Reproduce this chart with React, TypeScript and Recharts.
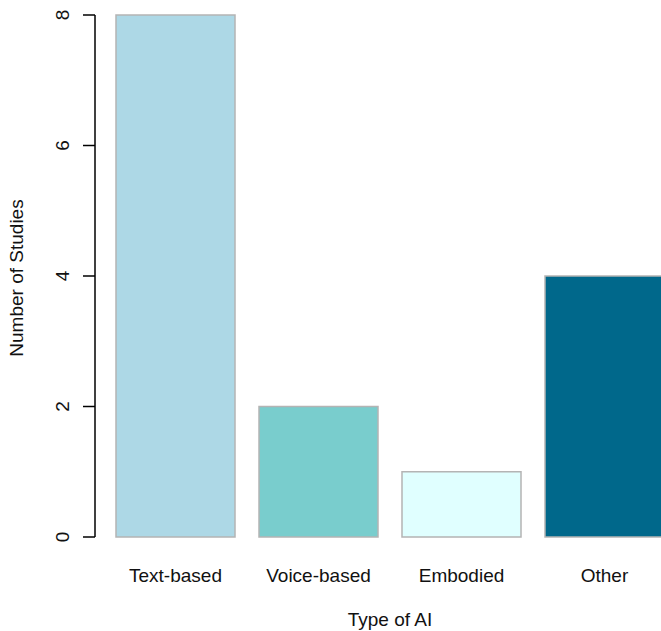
import { BarChart, Bar, XAxis, YAxis, Cell } from "recharts";

const categories = ["Text-based", "Voice-based", "Embodied", "Other"];
const studies = [8, 2, 1, 4];
const colors = ["#ADD8E6", "#79CDCD", "#E0FFFF", "#00688B"];
const yTicks = [0, 2, 4, 6, 8];

const data = categories.map((name, i) => ({ name, value: studies[i] }));

const FONT = "Arial, 'Liberation Sans', sans-serif";
const FS = 19;

function YTick(props: any) {
  const { x, y, payload } = props;
  const tx = x - 12;
  return (
    <text
      x={tx}
      y={y}
      transform={`rotate(-90, ${tx}, ${y})`}
      textAnchor="middle"
      fontSize={FS}
      fontFamily={FONT}
      fill="#111"
    >
      {payload.value}
    </text>
  );
}

export default function App() {
  return (
    <div style={{ position: "fixed", left: 0, top: 0, width: 661, height: 631, overflow: "hidden", background: "#fff" }}>
      <BarChart
        width={700}
        height={631}
        data={data}
        margin={{ top: 15, right: 24, bottom: 0, left: 0 }}
        barCategoryGap={12}
      >
        <XAxis
          dataKey="name"
          axisLine={false}
          tickLine={false}
          padding={{ left: 9, right: 0 }}
          tick={{ fontSize: FS, fontFamily: FONT, fill: "#111", dy: 24 }}
          height={94}
          interval={0}
        />
        <YAxis
          domain={[0, 8]}
          ticks={yTicks}
          width={95}
          axisLine={{ stroke: "#000", strokeWidth: 1.5 }}
          tickLine={{ stroke: "#000", strokeWidth: 1.5 }}
          tickSize={12}
          tick={<YTick />}
        />
        <Bar dataKey="value" stroke="#B4B4B4" strokeWidth={1.5} isAnimationActive={false}>
          {data.map((d, i) => (
            <Cell key={d.name} fill={colors[i]} />
          ))}
        </Bar>
      </BarChart>
      <div
        style={{
          position: "absolute",
          left: 390,
          top: 619,
          transform: "translate(-50%, -50%)",
          fontSize: FS,
          lineHeight: 1,
          fontFamily: FONT,
          color: "#111",
          whiteSpace: "nowrap",
        }}
      >
        Type of AI
      </div>
      <div
        style={{
          position: "absolute",
          left: 17,
          top: 278,
          transform: "translate(-50%, -50%) rotate(-90deg)",
          fontSize: FS,
          fontFamily: FONT,
          color: "#111",
          whiteSpace: "nowrap",
        }}
      >
        Number of Studies
      </div>
    </div>
  );
}
